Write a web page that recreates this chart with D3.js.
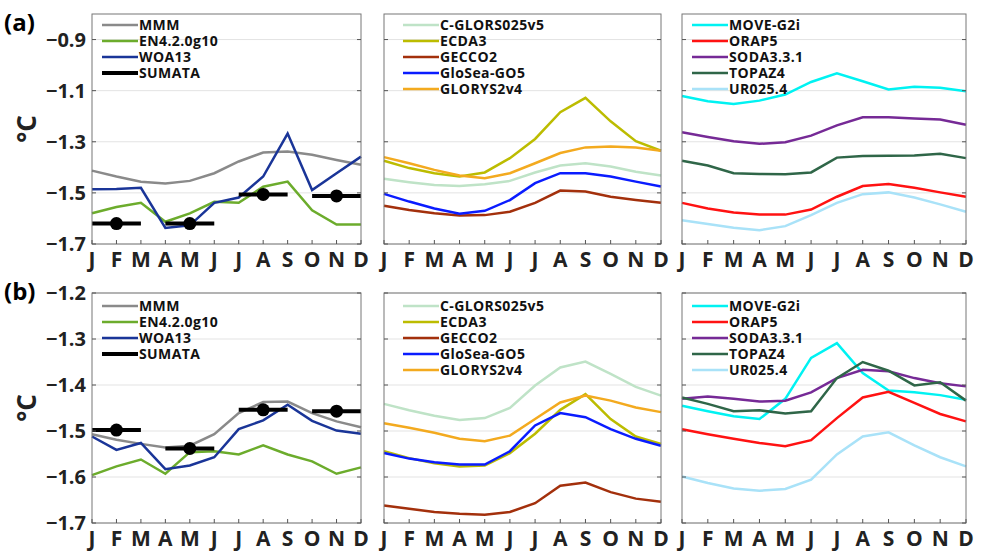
<!DOCTYPE html>
<html><head><meta charset="utf-8">
<script src="https://cdn.jsdelivr.net/npm/d3@7"></script>
<style>body{margin:0;background:#fff}svg{font-family:"Open Sans","DejaVu Sans",sans-serif}</style>
</head><body><svg id="c" width="985" height="551"></svg>
<script>
const months = ["J","F","M","A","M","J","J","A","S","O","N","D"]

// panel (a)
const aMMM    = [-1.413,-1.436,-1.456,-1.463,-1.453,-1.423,-1.377,-1.342,-1.338,-1.351,-1.371,-1.39]
const aEN4    = [-1.58,-1.555,-1.539,-1.613,-1.58,-1.535,-1.539,-1.476,-1.456,-1.568,-1.624,-1.624]
const aWOA    = [-1.486,-1.485,-1.48,-1.637,-1.627,-1.539,-1.518,-1.436,-1.268,-1.489,-1.423,-1.358]
const aSUMATA = [-1.62,-1.62,-1.506,-1.512]
const aCGLORS = [-1.445,-1.458,-1.469,-1.473,-1.466,-1.453,-1.42,-1.393,-1.384,-1.397,-1.417,-1.432]
const aECDA3  = [-1.374,-1.403,-1.423,-1.436,-1.42,-1.364,-1.289,-1.184,-1.128,-1.22,-1.298,-1.335]
const aGECCO2 = [-1.55,-1.567,-1.58,-1.588,-1.587,-1.574,-1.539,-1.491,-1.495,-1.515,-1.528,-1.539]
const aGloSea = [-1.504,-1.534,-1.561,-1.582,-1.57,-1.528,-1.462,-1.423,-1.423,-1.436,-1.456,-1.475]
const aGLORYS = [-1.36,-1.384,-1.41,-1.432,-1.443,-1.423,-1.384,-1.344,-1.322,-1.318,-1.322,-1.335]
const aMOVE   = [-1.121,-1.141,-1.152,-1.139,-1.115,-1.066,-1.032,-1.063,-1.095,-1.085,-1.089,-1.102]
const aORAP5  = [-1.539,-1.561,-1.577,-1.585,-1.585,-1.565,-1.515,-1.473,-1.465,-1.48,-1.498,-1.515]
const aSODA   = [-1.263,-1.281,-1.298,-1.308,-1.302,-1.276,-1.236,-1.204,-1.204,-1.209,-1.213,-1.233]
const aTOPAZ  = [-1.374,-1.393,-1.423,-1.426,-1.427,-1.42,-1.362,-1.356,-1.355,-1.354,-1.347,-1.364]
const aUR025  = [-1.607,-1.622,-1.636,-1.646,-1.63,-1.587,-1.539,-1.505,-1.498,-1.518,-1.545,-1.574]

// panel (b)
const bMMM    = [-1.507,-1.519,-1.528,-1.536,-1.532,-1.507,-1.461,-1.437,-1.436,-1.461,-1.479,-1.492]
const bEN4    = [-1.596,-1.577,-1.562,-1.593,-1.546,-1.544,-1.551,-1.531,-1.551,-1.566,-1.593,-1.579]
const bWOA    = [-1.512,-1.541,-1.526,-1.583,-1.575,-1.557,-1.496,-1.477,-1.443,-1.478,-1.499,-1.506]
const bSUMATA = [-1.498,-1.538,-1.454,-1.457]
const bCGLORS = [-1.441,-1.455,-1.467,-1.476,-1.472,-1.45,-1.401,-1.362,-1.349,-1.376,-1.404,-1.423]
const bECDA3  = [-1.544,-1.559,-1.57,-1.577,-1.575,-1.548,-1.506,-1.454,-1.42,-1.474,-1.512,-1.528]
const bGECCO2 = [-1.662,-1.669,-1.676,-1.68,-1.682,-1.676,-1.657,-1.619,-1.612,-1.633,-1.647,-1.654]
const bGloSea = [-1.548,-1.56,-1.568,-1.573,-1.573,-1.544,-1.488,-1.461,-1.47,-1.496,-1.517,-1.532]
const bGLORYS = [-1.483,-1.493,-1.504,-1.517,-1.522,-1.51,-1.474,-1.438,-1.423,-1.434,-1.449,-1.459]
const bMOVE   = [-1.445,-1.457,-1.468,-1.474,-1.43,-1.341,-1.309,-1.374,-1.412,-1.416,-1.422,-1.432]
const bORAP5  = [-1.496,-1.507,-1.517,-1.526,-1.533,-1.52,-1.472,-1.427,-1.415,-1.439,-1.463,-1.479]
const bSODA   = [-1.43,-1.425,-1.43,-1.436,-1.434,-1.416,-1.385,-1.367,-1.37,-1.385,-1.396,-1.403]
const bTOPAZ  = [-1.427,-1.441,-1.457,-1.455,-1.462,-1.457,-1.385,-1.35,-1.369,-1.401,-1.394,-1.434]
const bUR025  = [-1.599,-1.613,-1.625,-1.63,-1.626,-1.606,-1.551,-1.512,-1.503,-1.531,-1.557,-1.577]

const aTicks = [-0.9,-1.1,-1.3,-1.5,-1.7]
const bTicks = [-1.2,-1.3,-1.4,-1.5,-1.6,-1.7]

const col = {MMM:"#8a8a8a",EN4:"#6cac2c",WOA:"#1a3598",CG:"#bfe3c7",ECDA3:"#bcbc00",GECCO2:"#a3300c",
  GloSea:"#0a1cff",GLORYS:"#f3aa1f",MOVE:"#00f2f2",ORAP5:"#ff1212",SODA:"#762a96",TOPAZ:"#2f6648",UR:"#a9e2f8"}

const svg = d3.select("#c")
const xCols = [[92,361],[384,661],[682,966]]

function panel(x0, x1, y0, y1, dom, ticks, series, legendY, legendX, sumata, showY) {
  const x = d3.scaleLinear().domain([0,11]).range([x0,x1])
  const y = d3.scaleLinear().domain(dom).range([y1,y0])
  const g = svg.append("g")
  g.selectAll("line.grid").data(ticks).join("line")
    .attr("x1",x0).attr("x2",x1).attr("y1",d=>y(d)).attr("y2",d=>y(d))
    .attr("stroke","#e3e3e3").attr("stroke-width",1)
  const line = d3.line().x((d,i)=>x(i)).y(d=>y(d))
  series.forEach(s => {
    g.append("path").attr("d",line(s.v)).attr("fill","none").attr("stroke",s.c).attr("stroke-width",s.w||2.5)
  })
  if (sumata) {
    const centers = [1,4,7,10]
    sumata.forEach((v,i) => {
      g.append("line").attr("x1",x(centers[i]-1)).attr("x2",x(centers[i]+1))
        .attr("y1",y(v)).attr("y2",y(v)).attr("stroke","#000").attr("stroke-width",4)
      g.append("circle").attr("cx",x(centers[i])).attr("cy",y(v)).attr("r",6.5).attr("fill","#000")
    })
  }
  // frame + ticks
  g.append("rect").attr("x",x0).attr("y",y0).attr("width",x1-x0).attr("height",y1-y0)
    .attr("fill","none").attr("stroke","#777").attr("stroke-width",1)
  g.selectAll("line.xt").data(d3.range(12)).join("line")
    .attr("x1",d=>x(d)).attr("x2",d=>x(d)).attr("y1",y1).attr("y2",y1-4).attr("stroke","#555")
  g.selectAll("line.yt").data(ticks).join("line")
    .attr("x1",x0).attr("x2",x0+4).attr("y1",d=>y(d)).attr("y2",d=>y(d)).attr("stroke","#555")
  g.selectAll("line.yt2").data(ticks).join("line")
    .attr("x1",x1).attr("x2",x1-4).attr("y1",d=>y(d)).attr("y2",d=>y(d)).attr("stroke","#555")
  g.selectAll("text.m").data(months).join("text")
    .attr("x",(d,i)=>x(i)).attr("y",y1+23).attr("text-anchor","middle")
    .attr("font-size",21).attr("font-weight","bold").attr("fill","#222").text(d=>d)
  if (showY) {
    g.selectAll("text.yl").data(ticks).join("text")
      .attr("x",x0-6).attr("y",d=>y(d)+7).attr("text-anchor","end")
      .attr("font-size",20).attr("font-weight","bold").attr("fill","#222").text(d=>"\u2212"+Math.abs(d).toFixed(1))
  }
  series.forEach((s,i) => {
    const ly = legendY + i*16
    g.append("line").attr("x1",legendX).attr("x2",legendX+36).attr("y1",ly).attr("y2",ly)
      .attr("stroke",s.c).attr("stroke-width",s.w||2.5)
    g.append("text").attr("x",legendX+37).attr("y",ly+5).attr("font-size",14).attr("font-weight","bold")
      .attr("letter-spacing",0.4).attr("fill","#111").text(s.n)
  })
  if (sumata) {
    const ly = legendY + series.length*16
    g.append("line").attr("x1",legendX).attr("x2",legendX+36).attr("y1",ly).attr("y2",ly).attr("stroke","#000").attr("stroke-width",4)
    g.append("text").attr("x",legendX+37).attr("y",ly+5).attr("font-size",14).attr("font-weight","bold")
      .attr("letter-spacing",0.4).attr("fill","#111").text("SUMATA")
  }
}

function row(y0, y1, dom, ticks, d, legendY) {
  panel(xCols[0][0],xCols[0][1],y0,y1,dom,ticks,[
    {n:"MMM",v:d.MMM,c:col.MMM},{n:"EN4.2.0g10",v:d.EN4,c:col.EN4},{n:"WOA13",v:d.WOA,c:col.WOA}],
    legendY, xCols[0][0]+10, d.SUM, true)
  panel(xCols[1][0],xCols[1][1],y0,y1,dom,ticks,[
    {n:"C-GLORS025v5",v:d.CG,c:col.CG},{n:"ECDA3",v:d.ECDA3,c:col.ECDA3},{n:"GECCO2",v:d.GECCO2,c:col.GECCO2},
    {n:"GloSea-GO5",v:d.GloSea,c:col.GloSea},{n:"GLORYS2v4",v:d.GLORYS,c:col.GLORYS}],
    legendY, xCols[1][0]+19, null, false)
  panel(xCols[2][0],xCols[2][1],y0,y1,dom,ticks,[
    {n:"MOVE-G2i",v:d.MOVE,c:col.MOVE},{n:"ORAP5",v:d.ORAP5,c:col.ORAP5},{n:"SODA3.3.1",v:d.SODA,c:col.SODA},
    {n:"TOPAZ4",v:d.TOPAZ,c:col.TOPAZ},{n:"UR025.4",v:d.UR,c:col.UR}],
    legendY, xCols[2][0]+10, null, false)
}

row(14,244,[-1.7,-0.8],aTicks,{MMM:aMMM,EN4:aEN4,WOA:aWOA,SUM:aSUMATA,CG:aCGLORS,ECDA3:aECDA3,GECCO2:aGECCO2,
  GloSea:aGloSea,GLORYS:aGLORYS,MOVE:aMOVE,ORAP5:aORAP5,SODA:aSODA,TOPAZ:aTOPAZ,UR:aUR025},25)
row(293,523,[-1.7,-1.2],bTicks,{MMM:bMMM,EN4:bEN4,WOA:bWOA,SUM:bSUMATA,CG:bCGLORS,ECDA3:bECDA3,GECCO2:bGECCO2,
  GloSea:bGloSea,GLORYS:bGLORYS,MOVE:bMOVE,ORAP5:bORAP5,SODA:bSODA,TOPAZ:bTOPAZ,UR:bUR025},306)

svg.append("text").attr("x",4).attr("y",31).attr("font-size",24).attr("font-weight","bold").text("(a)")
svg.append("text").attr("x",4).attr("y",300).attr("font-size",24).attr("font-weight","bold").text("(b)")
;[129,408].forEach(cy => {
  svg.append("text").attr("transform",`translate(36,${cy}) rotate(-90)`).attr("text-anchor","middle")
    .attr("font-size",26).attr("font-weight","bold").attr("fill","#222").text("\u00B0C")
})
</script></body></html>
